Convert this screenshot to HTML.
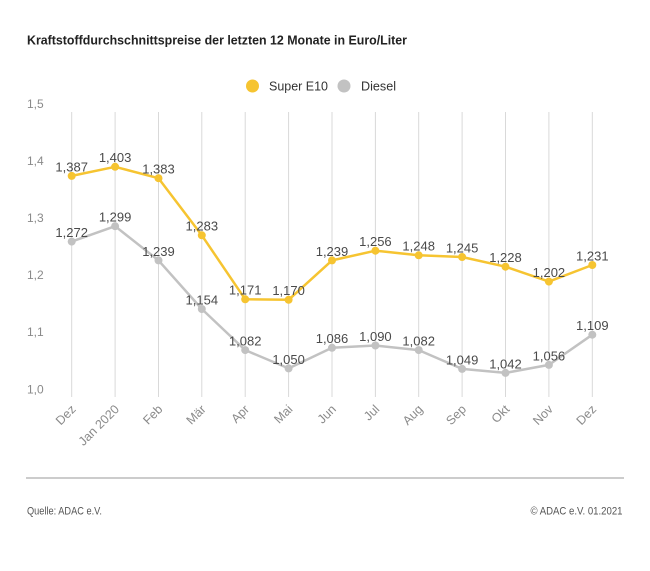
<!DOCTYPE html>
<html><head><meta charset="utf-8"><style>
html,body{margin:0;padding:0;background:#fff;}
svg{display:block;}
text{font-family:"Liberation Sans",sans-serif;}
</style></head><body>
<svg width="650" height="571" viewBox="0 0 650 571" xmlns="http://www.w3.org/2000/svg">
<rect width="650" height="571" fill="#fff"/>
<text x="27" y="44.5" font-size="13" font-weight="bold" fill="#222" textLength="380" lengthAdjust="spacingAndGlyphs">Kraftstoffdurchschnittspreise der letzten 12 Monate in Euro/Liter</text>
<circle cx="252.5" cy="86" r="6.5" fill="#f6c431"/>
<text x="269" y="90.5" font-size="13" fill="#333" textLength="59" lengthAdjust="spacingAndGlyphs">Super E10</text>
<circle cx="344" cy="86" r="6.5" fill="#c2c2c2"/>
<text x="361" y="90.5" font-size="13" fill="#333" textLength="35" lengthAdjust="spacingAndGlyphs">Diesel</text>
<g font-size="12" fill="#8a8a8a">
<text x="27" y="108">1,5</text>
<text x="27" y="165">1,4</text>
<text x="27" y="222">1,3</text>
<text x="27" y="279">1,2</text>
<text x="27" y="336">1,1</text>
<text x="27" y="393.4">1,0</text>
</g>
<g stroke="#d9d9d9" stroke-width="1">
<line x1="71.7" y1="112" x2="71.7" y2="397"/>
<line x1="115.1" y1="112" x2="115.1" y2="397"/>
<line x1="158.5" y1="112" x2="158.5" y2="397"/>
<line x1="201.8" y1="112" x2="201.8" y2="397"/>
<line x1="245.2" y1="112" x2="245.2" y2="397"/>
<line x1="288.6" y1="112" x2="288.6" y2="397"/>
<line x1="332.0" y1="112" x2="332.0" y2="397"/>
<line x1="375.4" y1="112" x2="375.4" y2="397"/>
<line x1="418.7" y1="112" x2="418.7" y2="397"/>
<line x1="462.1" y1="112" x2="462.1" y2="397"/>
<line x1="505.5" y1="112" x2="505.5" y2="397"/>
<line x1="548.9" y1="112" x2="548.9" y2="397"/>
<line x1="592.3" y1="112" x2="592.3" y2="397"/>
</g>
<g font-size="12.5" fill="#8a8a8a" text-anchor="end">
<text transform="translate(76.5,410) rotate(-45)">Dez</text>
<text transform="translate(119.9,410) rotate(-45)">Jan 2020</text>
<text transform="translate(163.3,410) rotate(-45)">Feb</text>
<text transform="translate(206.6,410) rotate(-45)">Mär</text>
<text transform="translate(250.0,410) rotate(-45)">Apr</text>
<text transform="translate(293.4,410) rotate(-45)">Mai</text>
<text transform="translate(336.8,410) rotate(-45)">Jun</text>
<text transform="translate(380.2,410) rotate(-45)">Jul</text>
<text transform="translate(423.5,410) rotate(-45)">Aug</text>
<text transform="translate(466.9,410) rotate(-45)">Sep</text>
<text transform="translate(510.3,410) rotate(-45)">Okt</text>
<text transform="translate(553.7,410) rotate(-45)">Nov</text>
<text transform="translate(597.1,410) rotate(-45)">Dez</text>
</g>
<polyline fill="none" stroke="#c2c2c2" stroke-width="2.5" stroke-linejoin="round" points="71.7,241.6 115.1,226.2 158.5,260.4 201.8,309.0 245.2,350.1 288.6,368.4 332.0,347.8 375.4,345.5 418.7,350.1 462.1,368.9 505.5,372.9 548.9,364.9 592.3,334.7"/>
<g fill="#c2c2c2">
<circle cx="71.7" cy="241.6" r="4"/><circle cx="115.1" cy="226.2" r="4"/><circle cx="158.5" cy="260.4" r="4"/><circle cx="201.8" cy="309.0" r="4"/><circle cx="245.2" cy="350.1" r="4"/><circle cx="288.6" cy="368.4" r="4"/><circle cx="332.0" cy="347.8" r="4"/><circle cx="375.4" cy="345.5" r="4"/><circle cx="418.7" cy="350.1" r="4"/><circle cx="462.1" cy="368.9" r="4"/><circle cx="505.5" cy="372.9" r="4"/><circle cx="548.9" cy="364.9" r="4"/><circle cx="592.3" cy="334.7" r="4"/>
</g>
<polyline fill="none" stroke="#f6c431" stroke-width="2.5" stroke-linejoin="round" points="71.7,175.9 115.1,166.8 158.5,178.2 201.8,235.3 245.2,299.3 288.6,299.8 332.0,260.4 375.4,250.7 418.7,255.3 462.1,257.0 505.5,266.7 548.9,281.6 592.3,265.0"/>
<g fill="#f6c431">
<circle cx="71.7" cy="175.9" r="4"/><circle cx="115.1" cy="166.8" r="4"/><circle cx="158.5" cy="178.2" r="4"/><circle cx="201.8" cy="235.3" r="4"/><circle cx="245.2" cy="299.3" r="4"/><circle cx="288.6" cy="299.8" r="4"/><circle cx="332.0" cy="260.4" r="4"/><circle cx="375.4" cy="250.7" r="4"/><circle cx="418.7" cy="255.3" r="4"/><circle cx="462.1" cy="257.0" r="4"/><circle cx="505.5" cy="266.7" r="4"/><circle cx="548.9" cy="281.6" r="4"/><circle cx="592.3" cy="265.0" r="4"/>
</g>
<g font-size="13" fill="#4a4a4a" text-anchor="middle">
<text x="71.7" y="171.3">1,387</text>
<text x="115.1" y="162.2">1,403</text>
<text x="158.5" y="173.6">1,383</text>
<text x="201.8" y="230.7">1,283</text>
<text x="245.2" y="294.7">1,171</text>
<text x="288.6" y="295.2">1,170</text>
<text x="332.0" y="255.8">1,239</text>
<text x="375.4" y="246.1">1,256</text>
<text x="418.7" y="250.7">1,248</text>
<text x="462.1" y="252.4">1,245</text>
<text x="505.5" y="262.1">1,228</text>
<text x="548.9" y="277.0">1,202</text>
<text x="592.3" y="260.4">1,231</text>
<text x="71.7" y="237.0">1,272</text>
<text x="115.1" y="221.6">1,299</text>
<text x="158.5" y="255.8">1,239</text>
<text x="201.8" y="304.4">1,154</text>
<text x="245.2" y="345.5">1,082</text>
<text x="288.6" y="363.8">1,050</text>
<text x="332.0" y="343.2">1,086</text>
<text x="375.4" y="340.9">1,090</text>
<text x="418.7" y="345.5">1,082</text>
<text x="462.1" y="364.3">1,049</text>
<text x="505.5" y="368.3">1,042</text>
<text x="548.9" y="360.3">1,056</text>
<text x="592.3" y="330.1">1,109</text>
</g>
<line x1="26" y1="478" x2="624" y2="478" stroke="#cccccc" stroke-width="2"/>
<text x="27" y="514.5" font-size="11" fill="#555" textLength="75" lengthAdjust="spacingAndGlyphs">Quelle: ADAC e.V.</text>
<text x="622.5" y="514.5" font-size="11" fill="#555" text-anchor="end" textLength="92" lengthAdjust="spacingAndGlyphs">© ADAC e.V. 01.2021</text>
</svg>
</body></html>
